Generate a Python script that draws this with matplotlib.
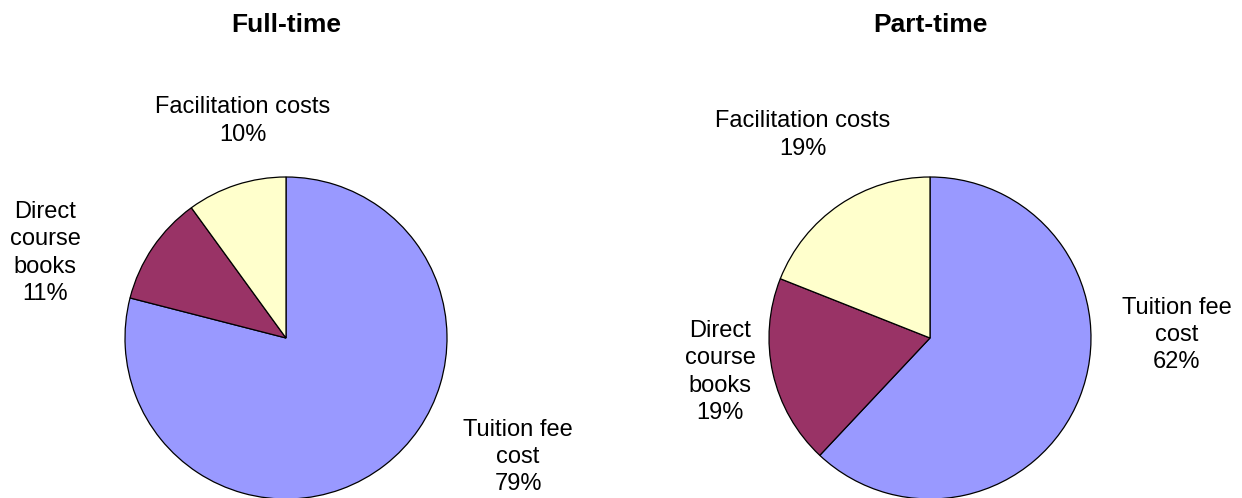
import matplotlib
matplotlib.use("Agg")
import matplotlib.pyplot as plt

plt.rcParams["font.family"] = ["Liberation Sans", "DejaVu Sans"]

TITLES = ["Full-time", "Part-time"]
CATEGORIES = ["Tuition fee cost", "Direct course books", "Facilitation costs"]
FULL_TIME = [79, 11, 10]
PART_TIME = [62, 19, 19]
COLORS = ["#9999FF", "#993366", "#FFFFCC"]

# label text split the way the original wraps it
LABEL_TEXT = ["Tuition fee\ncost", "Direct\ncourse\nbooks", "Facilitation costs"]

# pixel layout of the original (x, y from top)
CENTERS = [(286, 338), (930, 338)]
RADIUS = 161
TITLE_Y = 25
LABEL_POS = [
    [(518, 457), (45, 253), (243, 121)],
    [(1177, 335), (720, 372), (803, 135)],
]

W, H = 1242, 498
fig = plt.figure(figsize=(W / 100, H / 100), dpi=100)
ax = fig.add_axes([0, 0, 1, 1])
ax.set_xlim(0, W)
ax.set_ylim(H, 0)
ax.set_aspect("equal")
ax.axis("off")

for i, values in enumerate([FULL_TIME, PART_TIME]):
    cx, cy = CENTERS[i]
    wedges, _ = ax.pie(values, colors=COLORS, startangle=90, counterclock=False,
                       center=(cx, H - cy), radius=RADIUS,
                       wedgeprops=dict(edgecolor="black", linewidth=0.9))
    # pie draws in y-up coords; flip to the inverted axis
    for w in wedges:
        w.set_center((cx, cy))
        t1, t2 = w.theta1, w.theta2
        w.set_theta1(-t2)
        w.set_theta2(-t1)
    ax.set_xlim(0, W)
    ax.set_ylim(H, 0)
    ax.text(cx, TITLE_Y, TITLES[i], ha="center", va="center", fontsize=19, fontweight="bold")
    for j, v in enumerate(values):
        lx, ly = LABEL_POS[i][j]
        ax.text(lx, ly, f"{LABEL_TEXT[j]}\n{v}%", ha="center", va="center",
                fontsize=17, linespacing=1.3)

fig.savefig("out.png", dpi=100)
